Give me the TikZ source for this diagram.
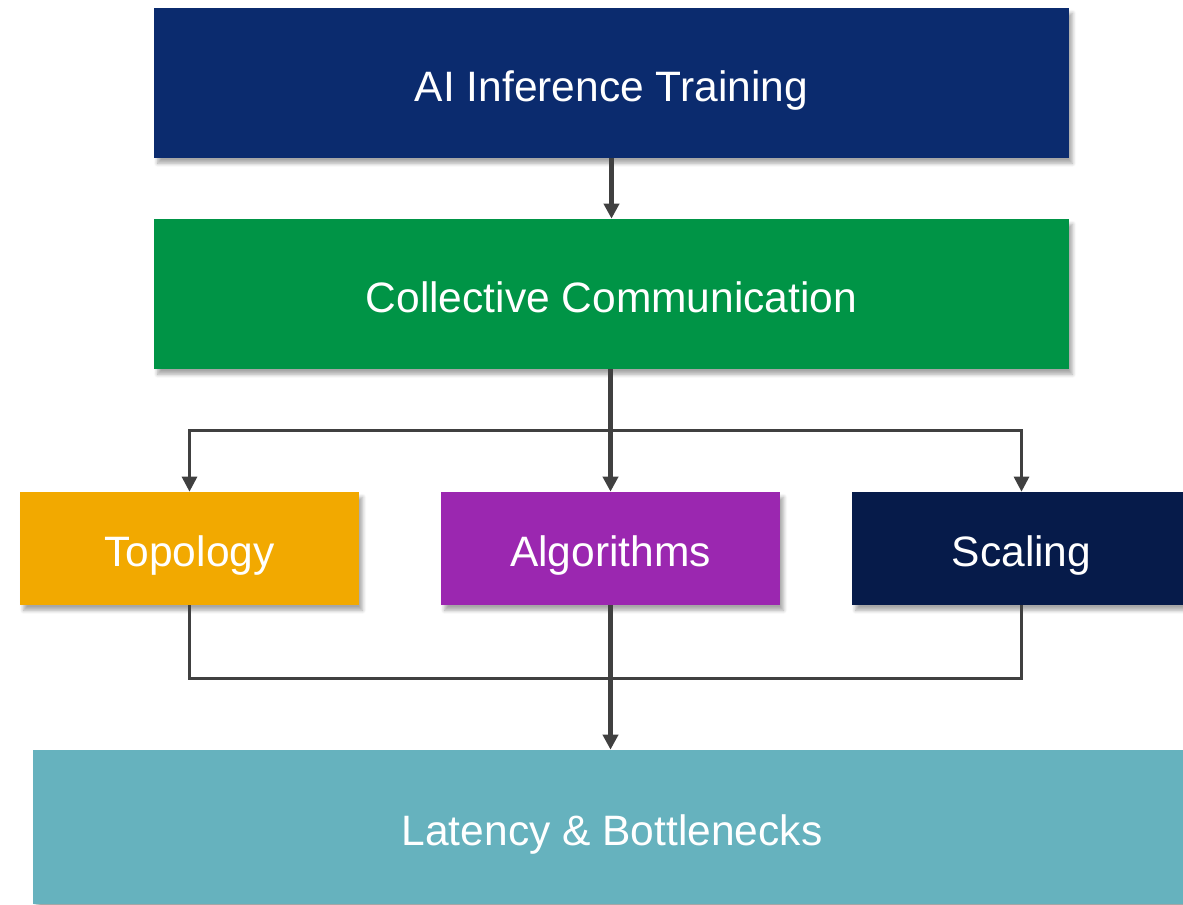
\documentclass[tikz,border=0pt]{standalone}
\usepackage{fontspec}
\setmainfont{Liberation Sans}
\usetikzlibrary{arrows.meta,shadows.blur}

\definecolor{aiblue}{RGB}{11,43,110}
\definecolor{ccgreen}{RGB}{0,148,70}
\definecolor{topoorange}{RGB}{242,169,0}
\definecolor{algpurple}{RGB}{155,39,176}
\definecolor{scalnavy}{RGB}{6,27,74}
\definecolor{latteal}{RGB}{102,178,190}
\definecolor{wire}{RGB}{64,64,64}

\tikzset{
  box/.style={rectangle, inner sep=0pt, text=white,
    font=\fontsize{24.2}{28}\selectfont, text height=21pt, text depth=0pt,
    blur shadow={shadow xshift=2pt, shadow yshift=-3pt, shadow blur steps=6, shadow opacity=35}},
  trunk/.style={draw=wire, line width=2.6pt},
  branch/.style={draw=wire, line width=1.7pt},
  tip/.style={-{Triangle[length=0.3cm, width=0.3cm]}}
}

\begin{document}
\begin{tikzpicture}[x=0.02cm, y=-0.02cm]
  \useasboundingbox (0,0) rectangle (1183,904);
  \node[box, fill=aiblue, minimum width=18.3cm, minimum height=3cm]
    (ai) at (611.5,83) {AI Inference Training};
  \node[box, fill=ccgreen, minimum width=18.3cm, minimum height=3cm]
    (cc) at (611.5,294) {Collective Communication};
  \node[box, fill=topoorange, minimum width=6.78cm, minimum height=2.26cm]
    (topo) at (189.5,548.5) {Topology};
  \node[box, fill=algpurple, minimum width=6.78cm, minimum height=2.26cm]
    (alg) at (610.5,548.5) {Algorithms};
  \node[box, fill=scalnavy, minimum width=6.78cm, minimum height=2.26cm]
    (scal) at (1021.5,548.5) {Scaling};
  \node[box, fill=latteal, minimum width=23.16cm, minimum height=3.08cm]
    (lat) at (612,827) {Latency \& Bottlenecks};

  \coordinate (split) at (611,430);
  \coordinate (merge) at (611,678);

  % top to middle
  \draw[trunk, tip] (ai) -- (cc);
  \draw[trunk, tip] (cc.south -| alg.north) -- (alg.north);
  \draw[branch, tip] (split) -| (topo.north);
  \draw[branch, tip] (split) -| (scal.north);

  % merge into the bottom
  \draw[branch] (topo.south) |- (merge) -| (scal.south);
  \draw[trunk, tip] (alg.south) -- (lat.north -| alg.south);
\end{tikzpicture}
\end{document}
